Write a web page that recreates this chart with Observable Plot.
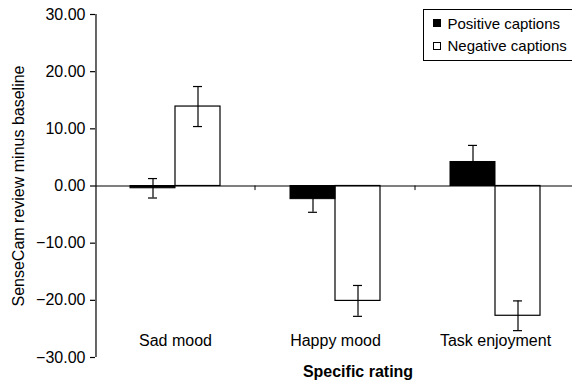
<!DOCTYPE html>
<html><head><meta charset="utf-8">
<script src="https://cdn.jsdelivr.net/npm/d3@7"></script>
<script src="https://cdn.jsdelivr.net/npm/@observablehq/plot@0.6"></script>
<style>
body{margin:0;background:#fff;font-family:"Liberation Sans",Arial,sans-serif;color:#000;}
#wrap{position:relative;width:572px;height:383px;overflow:hidden;background:#fff;}
#wrap svg{position:absolute;left:0;top:0;overflow:visible;}
#legend{position:absolute;left:423px;top:9px;width:170px;height:52px;box-sizing:border-box;border:1px solid #000;background:#fff;}
.lg-mark{position:absolute;width:8px;height:8px;box-sizing:border-box;border:1px solid #000;}
.lg-text{position:absolute;font-size:15px;line-height:15px;white-space:nowrap;font-family:"Liberation Sans",Arial,sans-serif;}
#xtitle{position:absolute;left:258px;width:200px;top:364px;text-align:center;font-size:16px;line-height:16px;font-weight:bold;}
</style></head><body>
<div id="wrap"></div>
<script>
// ---- data ----
const categories = ["Sad mood", "Happy mood", "Task enjoyment"];
const seriesNames = ["Positive captions", "Negative captions"];
const positiveMeans = [-0.4, -2.3, 4.2];
const positiveErrors = [1.7, 2.3, 2.9];
const negativeMeans = [13.9, -20.1, -22.7];
const negativeErrors = [3.5, 2.7, 2.6];
const yTicks = [-30, -20, -10, 0, 10, 20, 30];
const xTitle = "Specific rating";
const yTitle = "SenseCam review minus baseline";

const rows = categories.flatMap((c, i) => [
  {category: c, series: seriesNames[0], value: positiveMeans[i], err: positiveErrors[i]},
  {category: c, series: seriesNames[1], value: negativeMeans[i], err: negativeErrors[i]}
]);

// ---- layout ----
const W = 572, H = 383, mL = 95, mR = -3, mT = 14, mB = 26;
const outerPad = 0.74;
const facetW = (W - mL - mR) / categories.length;
const step = facetW / (seriesNames.length + 2 * outerPad);
const edgeDx = facetW - (outerPad * step + step * 1.5);   // center of 2nd band -> facet right edge
const leftDx = -(outerPad * step + step * 0.5);            // center of 1st band -> facet left edge
const capInset = (step - 10) / 2;

const chart = Plot.plot({
  width: W, height: H,
  marginLeft: mL, marginRight: mR, marginTop: mT, marginBottom: mB,
  style: {fontFamily: "Liberation Sans, Arial, sans-serif", fontSize: "16px", color: "#000", background: "transparent"},
  fx: {domain: categories, padding: 0, axis: null},
  x: {domain: seriesNames, paddingInner: 0, paddingOuter: outerPad, axis: null},
  y: {domain: [-30, 30], axis: null},
  marks: [
    Plot.barY(rows.filter(d => d.series === seriesNames[1]), {fx: "category", x: "series", y: "value", fill: "#fff", stroke: "#000", strokeWidth: 1.2}),
    Plot.barY(rows.filter(d => d.series === seriesNames[0]), {fx: "category", x: "series", y: "value", fill: "#000", stroke: "#000", strokeWidth: 1}),
    Plot.ruleY([0], {stroke: "#000", strokeWidth: 1.2}),
    Plot.ruleX(categories, {fx: d => d, x: () => seriesNames[1], y1: 0, y2: -0.8, dx: edgeDx, stroke: "#000"}),
    Plot.ruleX([categories[0]], {fx: d => d, x: () => seriesNames[0], y1: -30, y2: 30, dx: leftDx, stroke: "#000", strokeWidth: 1.2}),
    Plot.ruleX(rows, {fx: "category", x: "series", y1: d => d.value - d.err, y2: d => d.value + d.err, stroke: "#000", strokeWidth: 1.2}),
    Plot.tickY(rows, {fx: "category", x: "series", y: d => d.value + d.err, insetLeft: capInset, insetRight: capInset, stroke: "#000", strokeWidth: 1.2}),
    Plot.tickY(rows, {fx: "category", x: "series", y: d => d.value - d.err, insetLeft: capInset, insetRight: capInset, stroke: "#000", strokeWidth: 1.2}),
    Plot.axisY({ticks: yTicks, tickFormat: d3.format(".2f"), tickSize: 5, tickPadding: 5, strokeWidth: 1.2,
      label: yTitle, labelAnchor: "center", labelOffset: 83, labelArrow: "none", fontSize: 16}),
    Plot.text(categories, {fx: d => d, text: d => d, frameAnchor: "bottom", lineAnchor: "bottom", dy: -12, fontSize: 16, fill: "#000"})
  ]
});

const wrap = document.getElementById("wrap");
wrap.appendChild(chart);

// legend
const legend = document.createElement("div");
legend.id = "legend";
seriesNames.forEach((name, i) => {
  const m = document.createElement("div");
  m.className = "lg-mark";
  m.style.left = "9px";
  m.style.top = (9 + i * 22.5) + "px";
  m.style.background = i === 0 ? "#000" : "#fff";
  legend.appendChild(m);
  const t = document.createElement("div");
  t.className = "lg-text";
  t.style.left = "23.5px";
  t.style.top = (5.6 + i * 22.5) + "px";
  t.textContent = name;
  legend.appendChild(t);
});
wrap.appendChild(legend);

const xt = document.createElement("div");
xt.id = "xtitle";
xt.textContent = xTitle;
wrap.appendChild(xt);
</script>
</body></html>
